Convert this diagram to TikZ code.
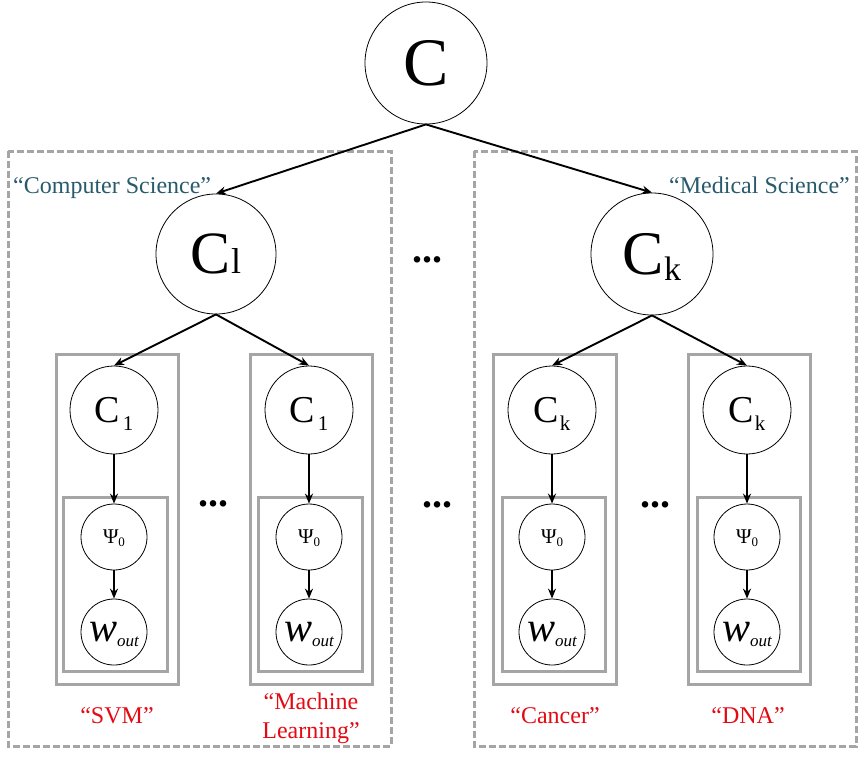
\documentclass[tikz,border=0pt]{standalone}
\usepackage{fontspec}
\setmainfont{Liberation Serif}
\usetikzlibrary{arrows.meta}
\definecolor{boxgray}{RGB}{165,165,165}
\definecolor{cattext}{RGB}{40,90,108}
\definecolor{labred}{RGB}{228,10,20}
\begin{document}
\begin{tikzpicture}[x=1pt,y=-1pt,
  nd/.style={circle,draw=black,line width=0.8pt,inner sep=0pt},
  arr/.style={-{Stealth[length=10pt,width=8pt]},line width=1.9pt},
  plate/.style={draw=boxgray,line width=3pt},
  grp/.style={draw=boxgray,line width=3pt,dash pattern=on 7pt off 3pt},
  dotsn/.style={font=\fontsize{40}{40}\selectfont\bfseries,inner sep=0pt,anchor=base},
  cat/.style={font=\fontsize{24}{24}\selectfont,text=cattext,inner sep=0pt},
  lab/.style={font=\fontsize{24}{29}\selectfont,text=labred,align=center,inner sep=0pt}]
\useasboundingbox (0,0) rectangle (864,756);

% group boxes
\draw[grp] (8,151) rectangle (391,746);
\draw[grp] (474,151) rectangle (856,746);

% plates
\foreach \xa/\xb in {56/178, 250/372, 493/616, 688/810}
  \draw[plate] (\xa,354) rectangle (\xb,684);
\foreach \xa/\xb in {63/167, 258/362, 502/605, 697/800}
  \draw[plate] (\xa,497) rectangle (\xb,671);

% top nodes
\node[nd,minimum size=122pt] (C) at (426,63) {\fontsize{68}{68}\selectfont C};
\node[nd,minimum size=120pt] (C1) at (216,254) {\fontsize{60}{60}\selectfont C\fontsize{36}{36}\selectfont l};
\node[nd,minimum size=122pt] (Ck) at (652,254) {\fontsize{62}{62}\selectfont C\raisebox{-6pt}[0pt][0pt]{\fontsize{34}{34}\selectfont k}};

\draw[arr] (C.south) -- (C1.north);
\draw[arr] (C.south) -- (Ck.north);

% lower columns
\foreach \x/\n/\s/\p/\g in {114/a/1/C1/3pt, 309/b/1/C1/3pt, 552/c/k/Ck/1pt, 747/d/k/Ck/1pt}{
  \node[nd,minimum size=88pt] (s\n) at (\x,410)
    {\fontsize{38}{38}\selectfont C\kern\g\raisebox{-8pt}[0pt][0pt]{\fontsize{21}{21}\selectfont \s}};
  \node[nd,minimum size=66pt] (p\n) at (\x,537)
    {\fontsize{21}{21}\selectfont Ψ\raisebox{-3pt}[0pt][0pt]{\fontsize{13}{13}\selectfont 0}};
  \node[nd,minimum size=66pt] (w\n) at (\x,632)
    {\fontsize{42}{42}\selectfont\itshape w\raisebox{-5pt}[0pt][0pt]{\fontsize{17}{17}\selectfont out}};
  \draw[arr] (\p.south) -- (s\n.north);
  \draw[arr] (s\n.south) -- (p\n.north);
  \draw[arr] (p\n.south) -- (w\n.north);
}

% ellipses
\node[dotsn] (d1) at (427,262) {...};
\node[dotsn] (d2) at (213,506) {...};
\node[dotsn] (d3) at (437,507) {...};
\node[dotsn] (d4) at (655,507) {...};

% category labels
\node[cat,anchor=base west] (cs) at (13,193) {“Computer Science”};
\node[cat,anchor=base east] (ms) at (850,193) {“Medical Science”};

% leaf labels
\node[lab,anchor=base] (l1) at (117,723) {“SVM”};
\node[lab] (l2) at (311,718) {“Machine\\Learning”};
\node[lab,anchor=base] (l3) at (555,723) {“Cancer”};
\node[lab,anchor=base] (l4) at (748,723) {“DNA”};
\end{tikzpicture}
\end{document}
